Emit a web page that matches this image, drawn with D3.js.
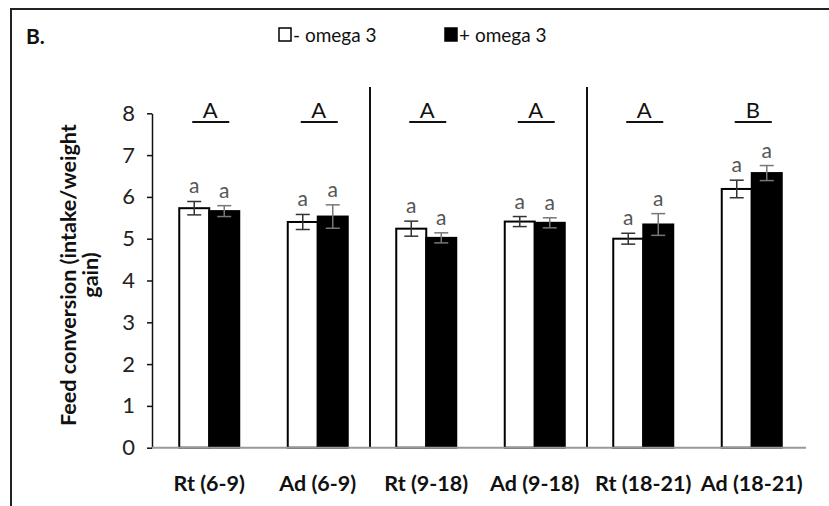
<!DOCTYPE html>
<html>
<head>
<meta charset="utf-8">
<script src="https://cdn.jsdelivr.net/npm/d3@7"></script>
<style>
  html, body { margin: 0; padding: 0; background: #fff; }
  svg { display: block; }
  text { font-family: Lato, "Open Sans", sans-serif; }
</style>
</head>
<body>
<script>
const categories = ["Rt (6-9)", "Ad (6-9)", "Rt (9-18)", "Ad (9-18)", "Rt (18-21)", "Ad (18-21)"];
const seriesNames = ["- omega 3", "+ omega 3"];
const minusValues = [5.73, 5.40, 5.24, 5.41, 5.00, 6.19];
const minusErrors = [0.16, 0.18, 0.18, 0.12, 0.13, 0.21];
const plusValues  = [5.66, 5.53, 5.02, 5.38, 5.34, 6.57];
const plusErrors  = [0.13, 0.28, 0.12, 0.12, 0.26, 0.18];
const minusLetters = ["a", "a", "a", "a", "a", "a"];
const plusLetters  = ["a", "a", "a", "a", "a", "a"];
const groupLetters = ["A", "A", "A", "A", "A", "B"];
const yTicks = [0, 1, 2, 3, 4, 5, 6, 7, 8];
const dividerAfter = ["Ad (6-9)", "Ad (9-18)"];
const panelLabel = "B.";
const yLabelLines = ["Feed conversion (intake/weight", "gain)"];

const W = 829, H = 506;
const svg = d3.select("body").append("svg").attr("width", W).attr("height", H);

function fitSize(sel, base, target) {
  const len = sel.node().getComputedTextLength();
  return len > 0 ? base * target / len : base;
}

// frame
svg.append("path").attr("d", `M11,${H} L11,9 L${W},9`)
  .attr("fill", "none").attr("stroke", "#222").attr("stroke-width", 2);

svg.append("text").attr("x", 26).attr("y", 44).text(panelLabel)
  .attr("font-size", 21).attr("font-weight", "bold").attr("fill", "#111");

const x = d3.scaleBand().domain(categories).range([155, 806]).padding(0);
const barW = 30;
const xs = d3.scaleBand().domain(seriesNames)
  .range([x.bandwidth() / 2 - barW, x.bandwidth() / 2 + barW]).padding(0);
const y = d3.scaleLinear().domain([0, 8]).range([447.7, 113.3]);

const axisX0 = 152;

// dividers
dividerAfter.forEach(c => {
  const i = categories.indexOf(c) + 1;
  const xp = x(categories[i]) - 2;
  svg.append("line").attr("x1", xp).attr("x2", xp).attr("y1", 87).attr("y2", y(0))
    .attr("stroke", "#111").attr("stroke-width", 2);
});

// y axis
const yAxis = svg.append("g").attr("transform", `translate(${axisX0},0)`)
  .call(d3.axisLeft(y).tickValues(yTicks).tickSize(5).tickSizeOuter(0).tickPadding(12));
yAxis.select(".domain").attr("stroke", "#111").attr("stroke-width", 1.5);
yAxis.selectAll(".tick line").attr("stroke", "#111").attr("stroke-width", 1.5);
yAxis.selectAll(".tick text").attr("font-size", 22).attr("fill", "#222")
  .attr("font-family", "Lato, sans-serif");

// y label
const yl = svg.append("text")
  .attr("transform", `translate(0,275) rotate(-90)`)
  .attr("text-anchor", "middle").attr("font-size", 20).attr("font-weight", "bold").attr("fill", "#111");
const yl1 = yl.append("tspan").attr("x", 0).text(yLabelLines[0]);
const yl2 = yl.append("tspan").attr("x", 0).text(yLabelLines[1]);
{
  const tmp = svg.append("text").attr("font-size", 20).attr("font-weight", "bold").text(yLabelLines[0]);
  const fs = fitSize(tmp, 20, 302);
  tmp.remove();
  yl.attr("font-size", fs);
  yl1.attr("y", 68 + fs * 0.35);
  yl2.attr("y", 90 + fs * 0.35);
}

// data rows
const rows = categories.map((c, i) => ({
  cat: c,
  bars: [
    { s: seriesNames[0], v: minusValues[i], e: minusErrors[i], l: minusLetters[i], fill: "#fff" },
    { s: seriesNames[1], v: plusValues[i], e: plusErrors[i], l: plusLetters[i], fill: "#000" }
  ],
  g: groupLetters[i]
}));

const groups = svg.selectAll("g.grp").data(rows).enter().append("g")
  .attr("class", "grp").attr("transform", d => `translate(${x(d.cat)},0)`);

groups.selectAll("rect").data(d => d.bars).enter().append("rect")
  .attr("x", d => xs(d.s)).attr("width", xs.bandwidth())
  .attr("y", d => y(d.v)).attr("height", d => y(0) - y(d.v))
  .attr("fill", d => d.fill).attr("stroke", "#000").attr("stroke-width", 2);

// error bars
const eb = groups.selectAll("g.eb").data(d => d.bars).enter().append("g").attr("class", "eb");
eb.append("line")
  .attr("x1", d => xs(d.s) + xs.bandwidth() / 2).attr("x2", d => xs(d.s) + xs.bandwidth() / 2)
  .attr("y1", d => y(d.v + d.e)).attr("y2", d => y(d.v - d.e))
  .attr("stroke", d => d.fill === "#000" ? "#777" : "#333").attr("stroke-width", 1.5);
[1, -1].forEach(sgn => {
  eb.append("line")
    .attr("x1", d => xs(d.s) + xs.bandwidth() / 2 - 7).attr("x2", d => xs(d.s) + xs.bandwidth() / 2 + 7)
    .attr("y1", d => y(d.v + sgn * d.e)).attr("y2", d => y(d.v + sgn * d.e))
    .attr("stroke", d => d.fill === "#000" ? "#777" : "#333").attr("stroke-width", 1.5);
});
eb.append("text")
  .attr("x", d => xs(d.s) + xs.bandwidth() / 2).attr("y", d => y(d.v + d.e) - 8)
  .attr("text-anchor", "middle").attr("font-size", 21).attr("fill", "#555").text(d => d.l);

// group letters
groups.append("text").attr("x", x.bandwidth() / 2 + 1).attr("y", 118)
  .attr("text-anchor", "middle").attr("font-size", 22).attr("fill", "#111").text(d => d.g);
groups.append("line").attr("x1", x.bandwidth() / 2 - 17).attr("x2", x.bandwidth() / 2 + 20)
  .attr("y1", 122).attr("y2", 122).attr("stroke", "#111").attr("stroke-width", 2);

// x baseline
svg.append("line").attr("x1", axisX0).attr("x2", 806).attr("y1", y(0)).attr("y2", y(0))
  .attr("stroke", "#999").attr("stroke-width", 2);

// x labels
const xAxis = svg.append("g").attr("transform", `translate(0,${y(0)})`)
  .call(d3.axisBottom(x).tickSize(0).tickPadding(0));
xAxis.select(".domain").remove();
{
  const tmp = svg.append("text").attr("font-size", 20).attr("font-weight", "bold").text(categories[5]);
  const fs = fitSize(tmp, 20, 102);
  tmp.remove();
  xAxis.selectAll(".tick text").attr("font-size", fs).attr("font-weight", "bold").attr("fill", "#111")
    .attr("font-family", "Lato, sans-serif").attr("dy", null).attr("y", 491 - y(0));
}

// legend
const legend = svg.append("g");
const legendItems = [
  { name: seriesNames[0], fill: "#fff", x: 279 },
  { name: seriesNames[1], fill: "#000", x: 445 }
];
legendItems.forEach(it => {
  legend.append("rect").attr("x", it.x).attr("y", 28).attr("width", 12).attr("height", 13)
    .attr("fill", it.fill).attr("stroke", "#000").attr("stroke-width", 1.5);
  legend.append("text").attr("x", it.x + 14).attr("y", 42).attr("font-size", 19).attr("fill", "#111")
    .text(it.name);
});
</script>
</body>
</html>
